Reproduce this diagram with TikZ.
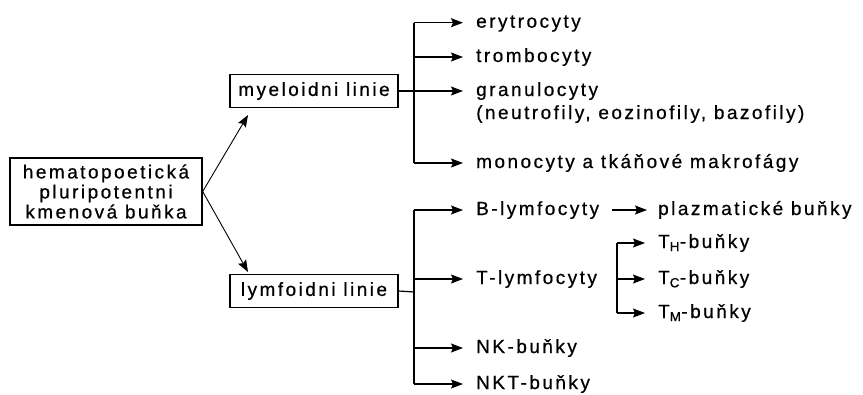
\documentclass[tikz,border=0pt]{standalone}
\usepackage{fontspec}
\setmainfont{Liberation Sans}[LetterSpace=13,FakeBold=0.6]
\usetikzlibrary{arrows.meta}
\tikzset{
  box/.style={draw,line width=1.4pt,inner sep=0pt,minimum height=33pt,minimum width=168pt},
  item/.style={anchor=west,inner xsep=13pt,inner ysep=0pt,text height=10pt,text depth=0pt},
  arr/.style={line width=1.2pt,-{Stealth[length=12pt,width=9pt,inset=2pt]}},
  ln/.style={line width=1.2pt}
}
\begin{document}
\begin{tikzpicture}[x=1pt,y=-1pt,font=\fontsize{19}{20}\selectfont]
    \useasboundingbox(0,0)rectangle(863,394);
    \node[box,minimum width=192pt,minimum height=67pt,align=center](hsc)at(106,191.5){hematopoetická\\pluripotentni\\kmenová buňka};
    \node[box](mye)at(314,91){myeloidni linie};
    \node[box](lym)at(314,291){lymfoidni linie};
    \coordinate(mt)at(248,115);
    \coordinate(lt)at(248,272);
    \draw[arr,line width=.9pt](hsc.east)--(mt);
    \draw[arr,line width=.9pt](hsc.east)--(lt);

    \node[item](ery)at(463,22.7){erytrocyty};
    \node[item](tro)at(463,57){trombocyty};
    \node[item](gra)at(463,91){granulocyty};
    \node[item](gra2)at(463,114){(neutrofily, eozinofily, bazofily)};
    \node[item](mon)at(463,163){monocyty a tkáňové makrofágy};
    \coordinate(mj)at(414,91);
    \draw[ln](mye.east)--(mj);
    \draw[ln](mj|-ery)--(mj|-mon);
    \foreach \n in {ery,tro,gra,mon}\draw[arr](mj|-\n)--(\n);

    \node[item](bly)at(463,210){B-lymfocyty};
    \node[item](tly)at(463,279){T-lymfocyty};
    \node[item](nk)at(463,348){NK-buňky};
    \node[item](nkt)at(463,384){NKT-buňky};
    \coordinate(lj)at(414,292);
    \draw[ln](lym.east)--(lj);
    \draw[ln](lj|-bly)--(lj|-nkt);
    \foreach \n in {bly,tly,nk,nkt}\draw[arr](lj|-\n)--(\n);

    \node[item,inner xsep=11pt](pla)at(647,210){plazmatické buňky};
    \draw[arr](bly)--(pla);
    \node[item](th)at(645,243){T\textsubscript{H}-buňky};
    \node[item](tc)at(645,279){T\textsubscript{C}-buňky};
    \node[item](tm)at(645,313){T\textsubscript{M}-buňky};
    \coordinate(tj)at(617,279);
    \draw[ln](tj|-th)--(tj|-tm);
    \foreach \n in {th,tc,tm}\draw[arr](tj|-\n)--(\n);
\end{tikzpicture}
\end{document}
